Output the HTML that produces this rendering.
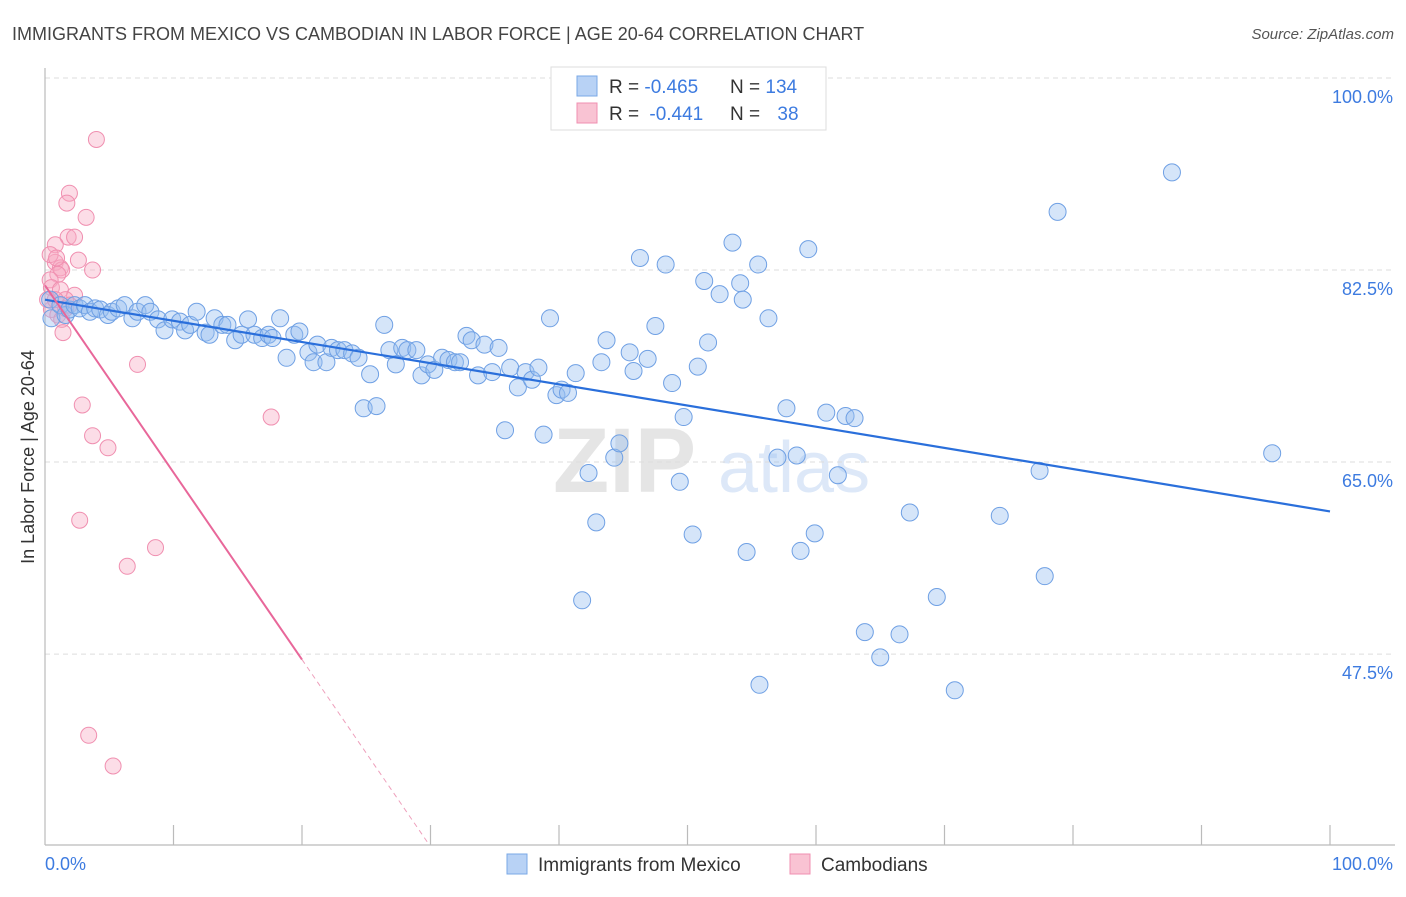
<!DOCTYPE html>
<html><head><meta charset="utf-8">
<style>
body{margin:0;background:#fff;font-family:"Liberation Sans",sans-serif;}
svg text{font-family:"Liberation Sans",sans-serif;}
</style></head>
<body>
<svg id="chart" width="1406" height="892" viewBox="0 0 1406 892" xmlns="http://www.w3.org/2000/svg">
<text x="12" y="40" font-size="18" fill="#444">IMMIGRANTS FROM MEXICO VS CAMBODIAN IN LABOR FORCE | AGE 20-64 CORRELATION CHART</text>
<text x="1394" y="39" font-size="15" fill="#555" font-style="italic" text-anchor="end">Source: ZipAtlas.com</text>
<g opacity="0.25">
<text x="553" y="492" font-size="92" font-family="Liberation Serif" fill="#999" font-weight="bold">ZIP</text>
<text x="718" y="492" font-size="72" fill="#7aa8e6">atlas</text>
</g>
<g id="grid"></g>
<line x1="45" y1="68" x2="45" y2="845" stroke="#bbb" stroke-width="1.2"/>
<line x1="45" y1="845" x2="1395" y2="845" stroke="#bbb" stroke-width="1.2"/>
<g id="xticks"></g>
<text transform="translate(34,457) rotate(-90)" font-size="18" fill="#333" text-anchor="middle">In Labor Force | Age 20-64</text>
<text x="45" y="870" font-size="18" fill="#3d7be0">0.0%</text>
<text x="1393" y="870" font-size="18" fill="#3d7be0" text-anchor="end">100.0%</text>
<g id="pink"></g>
<g id="blue"></g>
<g id="trends"></g>
<g>
<rect x="551" y="67" width="275" height="63" fill="#fff" stroke="#ddd"/>
<rect x="577" y="76" width="20" height="20" fill="#b8d2f5" stroke="#7aa8e6"/>
<rect x="577" y="103" width="20" height="20" fill="#f9c3d3" stroke="#f08fb0"/>
<text x="609" y="93" font-size="19" fill="#333">R = <tspan fill="#3d7be0">-0.465</tspan></text>
<text x="730" y="93" font-size="19" fill="#333">N = <tspan fill="#3d7be0">134</tspan></text>
<text x="609" y="120" font-size="19" fill="#333">R = <tspan fill="#3d7be0" dx="5">-0.441</tspan></text>
<text x="730" y="120" font-size="19" fill="#333">N = <tspan fill="#3d7be0" dx="12">38</tspan></text>
</g>
<g>
<rect x="507" y="854" width="20" height="20" fill="#b8d2f5" stroke="#7aa8e6"/>
<text x="538" y="871" font-size="19" fill="#333">Immigrants from Mexico</text>
<rect x="790" y="854" width="20" height="20" fill="#f9c3d3" stroke="#f08fb0"/>
<text x="821" y="871" font-size="19" fill="#333">Cambodians</text>
</g>
</svg>
<script>
const yTicks=[100,82.5,65,47.5];
const yTickLabels=["100.0%","82.5%","65.0%","47.5%"];
const xTicks=[0,10,20,30,40,50,60,70,80,90,100];
const blueX=[0.4,0.5,1.2,1.6,1.9,2.3,2.7,3.1,3.5,3.9,4.3,4.9,5.2,5.7,6.2,6.8,7.2,7.8,8.2,8.8,9.3,9.9,10.5,10.9,11.3,11.8,12.5,12.8,13.2,13.8,14.2,14.8,15.3,15.8,16.3,16.9,17.4,17.7,18.3,18.8,19.4,19.8,20.5,20.9,21.2,21.9,22.3,22.8,23.3,23.9,24.4,24.8,25.3,25.8,26.4,26.8,27.3,27.8,28.2,28.9,29.3,29.8,30.3,30.9,31.4,31.9,32.3,32.8,33.2,33.7,34.2,34.8,35.3,35.8,36.2,36.8,37.4,37.9,38.4,38.8,39.3,39.8,40.2,40.7,41.3,42.3,42.9,43.3,43.7,44.3,44.7,41.8,45.5,45.8,46.3,46.9,47.5,48.3,48.8,49.4,49.7,50.4,50.8,51.3,51.6,52.5,53.5,54.1,54.3,54.6,55.5,55.6,56.3,57.0,57.7,58.5,58.8,59.4,59.9,60.8,61.7,62.3,63.0,63.8,65.0,66.5,67.3,69.4,70.8,74.3,77.4,77.8,78.8,87.7,95.5,47.6];
const blueY=[79.8,78.1,79.3,78.4,78.9,79.3,79.0,79.3,78.7,79.0,78.9,78.4,78.7,79.0,79.3,78.1,78.7,79.3,78.7,78.0,77.0,78.0,77.8,77.0,77.5,78.7,76.8,76.6,78.1,77.5,77.5,76.1,76.6,78.0,76.6,76.3,76.6,76.3,78.1,74.5,76.6,76.9,75.0,74.1,75.7,74.1,75.4,75.2,75.2,74.9,74.5,69.9,73.0,70.1,77.5,75.2,73.9,75.4,75.2,75.2,72.9,73.9,73.4,74.5,74.3,74.1,74.1,76.5,76.1,72.9,75.7,73.2,75.4,67.9,73.6,71.8,73.2,72.5,73.6,67.5,78.1,71.1,71.6,71.3,73.1,64.0,59.5,74.1,76.1,65.4,66.7,52.4,75.0,73.3,83.6,74.4,77.4,83.0,72.2,63.2,69.1,58.4,73.7,81.5,75.9,80.3,85.0,81.3,79.8,56.8,83.0,44.7,78.1,65.4,69.9,65.6,56.9,84.4,58.5,69.5,63.8,69.2,69.0,49.5,47.2,49.3,60.4,52.7,44.2,60.1,64.2,54.6,87.8,91.4,65.8,99.8];
const pinkX=[4.0,1.9,1.7,3.2,1.8,2.3,0.8,2.6,3.7,0.8,1.2,1.3,1.0,0.4,0.5,1.2,2.3,1.6,0.5,1.0,1.3,1.4,7.2,2.9,3.7,4.9,17.6,2.7,8.6,6.4,3.4,5.3,0.4,0.9,0.2,1.6,0.8,1.9];
const pinkY=[94.4,89.5,88.6,87.3,85.5,85.5,84.8,83.4,82.5,83.2,82.7,82.5,82.1,81.6,80.9,80.7,80.2,79.8,78.9,78.4,78.0,76.8,73.9,70.2,67.4,66.3,69.1,59.7,57.2,55.5,40.1,37.3,83.9,83.6,79.8,79.0,79.8,79.3];
const blueTrend=[79.8,60.5];
const pinkTrend=[81.1,-1.705];
const NS="http://www.w3.org/2000/svg";
const X0=45,X1=1330,YMIN=30.1,YMAX=100,PY0=845,PY1=78;
function sx(v){return X0+(v/100)*(X1-X0);}
function sy(v){return PY0-(v-YMIN)/(YMAX-YMIN)*(PY0-PY1);}
function mk(tag,attrs,parent){const e=document.createElementNS(NS,tag);for(const k in attrs)e.setAttribute(k,attrs[k]);parent.appendChild(e);return e;}
const grid=document.getElementById('grid');
yTicks.forEach((t,i)=>{
 const l=mk('line',{x1:45,x2:1395,y1:sy(t),y2:sy(t),stroke:'#ddd','stroke-dasharray':'5,4'},grid);
 
 
 const tx=mk('text',{x:1393,y:sy(t)+25,'font-size':18,fill:'#3d7be0','text-anchor':'end'},grid);
 tx.textContent=yTickLabels[i];
 
 
});
const xt=document.getElementById('xticks');
xTicks.forEach(t=>{
 if(t===0)return;
 const l=mk('line',{x1:sx(t),x2:sx(t),y1:825,y2:845,stroke:'#bbb','stroke-width':1.2},xt);
 
 
});
const pg=document.getElementById('pink');
pinkX.forEach((x,i)=>{
 const c=mk('circle',{cx:sx(x),cy:sy(pinkY[i]),r:8,fill:'rgba(248,170,195,0.4)',stroke:'#f08fb0','stroke-width':1},pg);
 
 
});
const bg=document.getElementById('blue');
blueX.forEach((x,i)=>{
 const c=mk('circle',{cx:sx(x),cy:sy(blueY[i]),r:8.5,fill:'rgba(150,190,240,0.4)',stroke:'#6fa0e4','stroke-width':1},bg);
 
 
});
const tg=document.getElementById('trends');
const bl=mk('line',{x1:sx(0),y1:sy(blueTrend[0]),x2:sx(100),y2:sy(blueTrend[1]),stroke:'#2a6fdb','stroke-width':2.2},tg);


const pEnd=20, pDash=(YMIN-pinkTrend[0])/pinkTrend[1];
const pl=mk('line',{x1:sx(0),y1:sy(pinkTrend[0]),x2:sx(pEnd),y2:sy(pinkTrend[0]+pinkTrend[1]*pEnd),stroke:'#e8679a','stroke-width':2},tg);


const pd=mk('line',{x1:sx(pEnd),y1:sy(pinkTrend[0]+pinkTrend[1]*pEnd),x2:sx(pDash),y2:sy(YMIN),stroke:'#eea0bc','stroke-width':1,'stroke-dasharray':'5,4'},tg);


</script>
</body></html>
